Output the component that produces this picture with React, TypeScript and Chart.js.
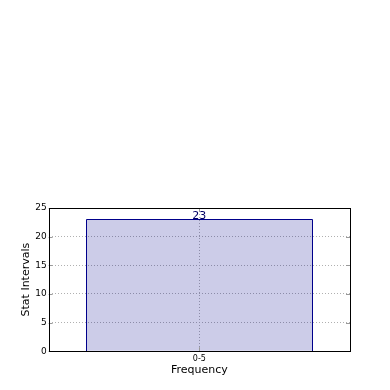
import React, { useEffect, useRef } from "react";
import { Chart, registerables } from "chart.js";

Chart.register(...registerables);

const categories = ["0-5"];
const counts = [23];
const yTicks = [0, 5, 10, 15, 20, 25];

const FONT = "'DejaVu Sans', sans-serif";

const framePlugin = {
  id: "frame",
  afterDraw(chart: any) {
    const { ctx, chartArea: a } = chart;
    ctx.save();
    ctx.strokeStyle = "#999999";
    ctx.lineWidth = 1;
    const ys = chart.scales.y;
    yTicks.forEach((v) => {
      const y = Math.round(ys.getPixelForValue(v)) + 0.5;
      ctx.beginPath();
      ctx.moveTo(a.left, y);
      ctx.lineTo(a.left + 4, y);
      ctx.moveTo(a.right, y);
      ctx.lineTo(a.right - 4, y);
      ctx.stroke();
    });
    const xs = chart.scales.x;
    categories.forEach((_, i) => {
      const x = Math.round(xs.getPixelForValue(i)) + 0.5;
      ctx.beginPath();
      ctx.moveTo(x, a.bottom);
      ctx.lineTo(x, a.bottom - 4);
      ctx.moveTo(x, a.top);
      ctx.lineTo(x, a.top + 4);
      ctx.stroke();
    });
    ctx.strokeStyle = "#000000";
    ctx.lineWidth = 1;
    ctx.strokeRect(
      Math.round(a.left) + 0.5,
      Math.round(a.top) + 0.5,
      Math.round(a.right - a.left),
      Math.round(a.bottom - a.top)
    );
    ctx.restore();
  },
  afterDatasetsDraw(chart: any) {
    const { ctx } = chart;
    const meta = chart.getDatasetMeta(0);
    ctx.save();
    // crisp bar outlines
    ctx.strokeStyle = "#00008B";
    ctx.lineWidth = 1;
    meta.data.forEach((el: any) => {
      const half = el.width / 2;
      const l = Math.round(el.x - half) + 0.5;
      const r = Math.round(el.x + half) + 0.5;
      const t = Math.round(el.y) + 0.5;
      const b = Math.round(el.base) + 0.5;
      ctx.beginPath();
      ctx.moveTo(l, b);
      ctx.lineTo(l, t);
      ctx.lineTo(r, t);
      ctx.lineTo(r, b);
      ctx.stroke();
    });
    ctx.fillStyle = "#000066";
    ctx.font = `11px ${FONT}`;
    ctx.textAlign = "center";
    ctx.textBaseline = "bottom";
    meta.data.forEach((el: any, i: number) => {
      ctx.fillText(String(counts[i]), el.x, el.y + 2);
    });
    ctx.restore();
  },
};

export default function App() {
  const ref = useRef<HTMLCanvasElement>(null);
  useEffect(() => {
    document.body.style.margin = "0";
    const chart = new Chart(ref.current!, {
      type: "bar",
      data: {
        labels: categories,
        datasets: [
          {
            data: counts,
            backgroundColor: "rgba(0,0,139,0.2)",
            borderWidth: 0,
            barPercentage: 0.75,
            categoryPercentage: 1,
          },
        ],
      },
      options: {
        animation: false,
        responsive: false,
        maintainAspectRatio: false,
        layout: { padding: { top: 208, right: 40, bottom: 13, left: 20 } },
        plugins: { legend: { display: false }, tooltip: { enabled: false } },
        scales: {
          x: {
            z: 1,
            grid: {
              offset: false,
              color: "#b0b0b0",
              lineWidth: 1,
              drawTicks: false,
            },
            border: { display: false, dash: [1, 2] },
            ticks: { color: "#000", font: { family: FONT, size: 8 }, padding: 3 },
            title: {
              display: true,
              text: "Frequency",
              color: "#000",
              font: { family: FONT, size: 11 },
              padding: { top: -3, bottom: 0 },
            },
          },
          y: {
            z: 1,
            min: 0,
            max: 25,
            grid: { color: "#b0b0b0", lineWidth: 1, drawTicks: false },
            border: { display: false, dash: [1, 2] },
            ticks: {
              stepSize: 5,
              color: "#000",
              font: { family: FONT, size: 9 },
              padding: 2,
            },
            title: {
              display: true,
              text: "Stat Intervals",
              color: "#000",
              font: { family: FONT, size: 11 },
              padding: { top: 0, bottom: 0 },
            },
          },
        },
      },
      plugins: [framePlugin],
    });
    return () => chart.destroy();
  }, []);
  return (
    <div style={{ position: "fixed", left: 0, top: 0, width: 390, height: 390 }}>
      <canvas ref={ref} width={390} height={390} style={{ width: 390, height: 390 }} />
    </div>
  );
}
